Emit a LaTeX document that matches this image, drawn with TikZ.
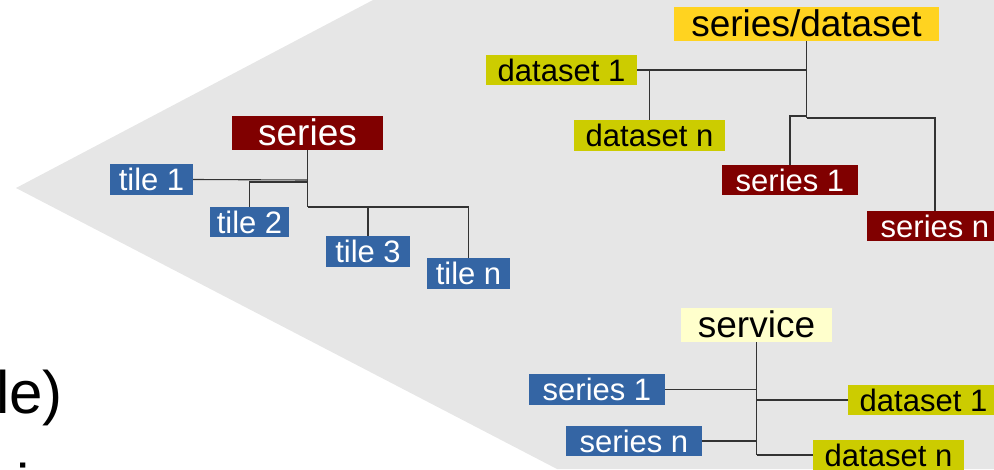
\documentclass[tikz,border=0pt]{standalone}
\usepackage{fontspec}
\setmainfont{Liberation Sans}
\definecolor{srred}{HTML}{800000}
\definecolor{srblue}{HTML}{3465A4}
\definecolor{srgold}{HTML}{FFD320}
\definecolor{srolive}{HTML}{CCCC00}
\definecolor{srlight}{HTML}{FFFFCC}
\definecolor{srgray}{HTML}{E6E6E6}
\definecolor{srline}{HTML}{333333}
\begin{document}
\begin{tikzpicture}[x=1pt,y=-1pt,
  box/.style={inner sep=0pt, anchor=center},
  big/.style={box, font=\fontsize{37}{40}\selectfont, text height=29.6pt, text depth=3.7pt},
  small/.style={box, font=\fontsize{31}{34}\selectfont, text height=24.8pt, text depth=2.6pt},
  redbox/.style={fill=srred, text=white},
  bluebox/.style={fill=srblue, text=white},
  goldbox/.style={fill=srgold, text=black},
  olivebox/.style={fill=srolive, text=black},
  lightbox/.style={fill=srlight, text=black},
  conn/.style={draw=srline, line width=1.1pt},
  slidetext/.style={anchor=base west, inner sep=0pt, font=\fontsize{60}{60}\selectfont}]
\path[use as bounding box] (0,0) rectangle (994,469);
\clip (0,0) rectangle (994,469);
\fill[srgray] (16,188) -- (373,0) -- (994,0) -- (994,469) -- (557,469) -- cycle;

% left tree
\node[big, redbox, minimum width=151pt, minimum height=34pt] (series) at (307.5,133) {series};
\node[small, bluebox, minimum width=83pt, minimum height=31pt] (tile1) at (151.5,179.5) {tile 1};
\node[small, bluebox, minimum width=79pt, minimum height=30pt] (tile2) at (249.5,222) {tile 2};
\node[small, bluebox, minimum width=84pt, minimum height=31pt] (tile3) at (368,251.5) {tile 3};
\node[small, bluebox, minimum width=83pt, minimum height=31pt] (tilen) at (468.5,273.5) {tile n};
\coordinate (a1) at (307.5,180);
\coordinate (a2) at (307.5,182);
\coordinate (a3) at (307.5,207);
\draw[conn] (series.south) -- (a3);
\draw[conn] (tile1.east) -- (a1);
\draw[conn] (tile2.north) -- (tile2.north |- a2) -- (a2);
\draw[conn] (a3) -- (tilen.north |- a3) -- (tilen.north);
\draw[conn] (tile3.north) -- (tile3.north |- a3);

% top right tree
\node[big, goldbox, minimum width=265pt, minimum height=34pt] (sd) at (806.5,24) {series/dataset};
\node[small, olivebox, minimum width=151pt, minimum height=30pt] (ds1) at (561.5,70) {dataset 1};
\node[small, olivebox, minimum width=151pt, minimum height=31pt] (dsn) at (649.5,135.5) {dataset n};
\node[small, redbox, minimum width=136pt, minimum height=30pt] (s1) at (790,180) {series 1};
\node[small, redbox, minimum width=136pt, minimum height=30pt] (sn) at (935,226) {series n};
\coordinate (b0) at (806.5,118);
\coordinate (b1) at (806.5,70);
\coordinate (b2) at (806.5,116);
\draw[conn] (sd.south) -- (b0);
\draw[conn] (ds1.east) -- (b1);
\draw[conn] (dsn.north) -- (dsn.north |- b1);
\draw[conn] (b2) -- (s1.north |- b2) -- (s1.north);
\draw[conn] (b0) -- (sn.north |- b0) -- (sn.north);

% bottom tree
\node[big, lightbox, minimum width=151pt, minimum height=34pt] (svc) at (756.5,325) {service};
\node[small, bluebox, minimum width=136pt, minimum height=31pt] (bs1) at (597,389.5) {series 1};
\node[small, bluebox, minimum width=136pt, minimum height=30pt] (bsn) at (634,441) {series n};
\node[small, olivebox, minimum width=151pt, minimum height=30pt] (bd1) at (923.5,400) {dataset 1};
\node[small, olivebox, minimum width=151pt, minimum height=30pt] (bdn) at (888.5,455) {dataset n};
\coordinate (c0) at (756.5,455);
\draw[conn] (svc.south) -- (c0);
\draw[conn] (bs1.east) -- (bs1.east -| c0);
\draw[conn] (c0 |- bd1.west) -- (bd1.west);
\draw[conn] (bsn.east) -- (bsn.east -| c0);
\draw[conn] (c0) -- (bdn.west);

% slide text fragments
\node[slidetext] (le) at (-4,413) {le)};
\node[slidetext] (ii) at (16,506) {i};
\end{tikzpicture}
\end{document}
